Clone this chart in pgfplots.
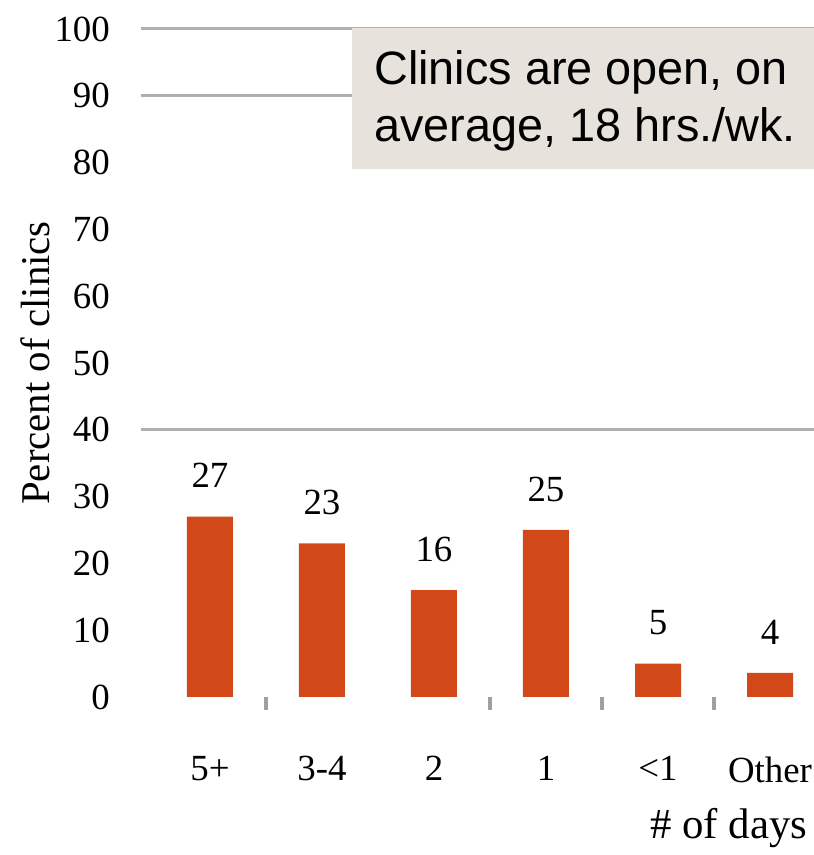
\documentclass[border=0pt]{standalone}
\usepackage{fontspec}
\setmainfont{Liberation Serif}
\newfontfamily\boxfont{Liberation Sans}
\usepackage{pgfplots}
\pgfplotsset{compat=1.18}
\definecolor{barred}{RGB}{210,73,25}
\definecolor{boxfill}{RGB}{231,227,220}
\definecolor{gridgray}{RGB}{175,175,175}
\definecolor{tickgray}{RGB}{160,160,160}

\begin{document}
\begin{tikzpicture}
\useasboundingbox (0bp,0bp) rectangle (814bp,855bp);
\begin{axis}[
    at={(141bp,158bp)}, anchor=south west,
    scale only axis,
    width=685bp, height=668bp,
    xmin=-0.616, xmax=5.5,
    ymin=0, ymax=100,
    axis line style={draw=none},
    ytick={0,10,...,100},
    xtick={0,...,5},
    xticklabels={5+,3-4,2,1,<1,Other},
    xtick pos=bottom,
    xtick style={draw=none},
    ytick style={draw=none},
    /pgf/number format/assume math mode=true,
    tick label style={font=\fontsize{37}{40}\selectfont, inner sep=0pt},
    yticklabel style={anchor=east, xshift=-31bp},
    xticklabel style={anchor=north, yshift=-55bp},
    extra y ticks={40,90,100},
    extra y tick labels={},
    extra y tick style={grid=major, major grid style={gridgray, line width=3bp}, ytick style={draw=none}},
    extra x ticks={0.5,2.5,3.5,4.5},
    extra x tick labels={},
    extra x tick style={xtick style={draw=tickgray, line width=3.5bp}, major tick length=13bp, tick align=outside},
    ylabel={Percent of clinics},
    every axis y label/.style={at={(axis description cs:0,0.5)}, rotate=90, anchor=center, yshift=106bp, font=\fontsize{41}{44}\selectfont},
    xlabel={\# of days},
    every axis x label/.style={at={(axis cs:3.93,0)}, anchor=west, yshift=-131bp, inner sep=0pt, font=\fontsize{43}{46}\selectfont},
    ybar, bar width=46bp,
    point meta=explicit symbolic,
    nodes near coords,
    every node near coord/.append style={anchor=center, yshift=41bp, font=\fontsize{37}{40}\selectfont},
]
\addplot[fill=barred, draw=none] coordinates {
    (0,27) [27]
    (1,23) [23]
    (2,16) [16]
    (3,25) [25]
    (4,5) [5]
    (5,3.6) [4]
};
\end{axis}
\fill[boxfill] (352bp,686bp) rectangle (830bp,827bp);
\node[anchor=base west, inner sep=0pt, font=\boxfont\fontsize{47}{50}\selectfont] at (374bp,770bp) {Clinics are open, on};
\node[anchor=base west, inner sep=0pt, font=\boxfont\fontsize{47}{50}\selectfont] at (374bp,713bp) {average, 18 hrs./wk.};
\end{tikzpicture}
\end{document}
